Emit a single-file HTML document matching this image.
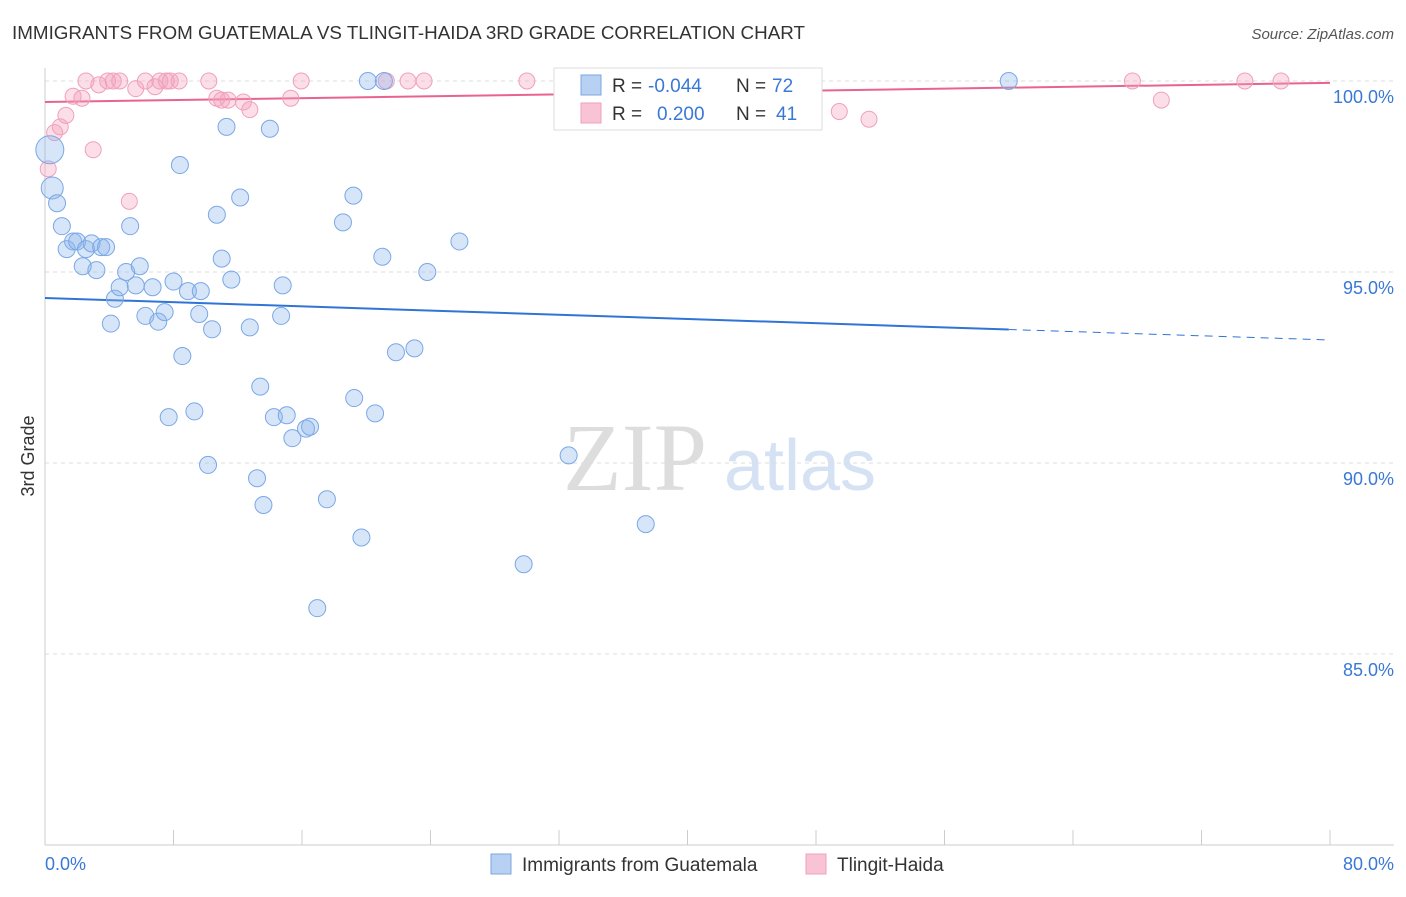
<!DOCTYPE html>
<html><head><meta charset="utf-8"><style>
body{margin:0;background:#fff;font-family:"Liberation Sans",sans-serif}
#c{position:relative;width:1406px;height:892px}
</style></head><body>
<div id="c">
<svg id="s" width="1406" height="892" xmlns="http://www.w3.org/2000/svg">
<text x="12" y="39" font-size="18" fill="#333" textLength="793" lengthAdjust="spacingAndGlyphs">IMMIGRANTS FROM GUATEMALA VS TLINGIT-HAIDA 3RD GRADE CORRELATION CHART</text>
<text x="1394" y="39" font-size="15" fill="#555" font-style="italic" text-anchor="end">Source: ZipAtlas.com</text>
<text x="34" y="456" font-size="18" fill="#333" text-anchor="middle" transform="rotate(-90 34 456)">3rd Grade</text>
<g><text x="635" y="490" font-size="96" fill="#ddd" font-family="Liberation Serif" text-anchor="middle">ZIP</text><text x="800" y="490" font-size="72" fill="#d4e2f4" text-anchor="middle">atlas</text></g>
<g id="grid"></g><g id="axes"></g><g id="trend"></g><g id="pts"></g>
<g>
<rect x="554" y="68" width="268" height="62" fill="#fff" stroke="#ddd"/>
<rect x="581" y="75" width="20" height="20" fill="#b8d1f3" stroke="#7aa8e6"/>
<text x="612" y="92" font-size="19" fill="#333">R = </text><text x="648" y="92" font-size="19" fill="#3a78d6">-0.044</text>
<text x="736" y="92" font-size="19" fill="#333">N = </text><text x="772" y="92" font-size="19" fill="#3a78d6">72</text>
<rect x="581" y="103" width="20" height="20" fill="#f8c3d4" stroke="#f0a0bb"/>
<text x="612" y="120" font-size="19" fill="#333">R = </text><text x="657" y="120" font-size="19" fill="#3a78d6">0.200</text>
<text x="736" y="120" font-size="19" fill="#333">N = </text><text x="776" y="120" font-size="19" fill="#3a78d6">41</text>
</g>
<g>
<rect x="491" y="854" width="20" height="20" fill="#b8d1f3" stroke="#7aa8e6"/>
<text x="522" y="871" font-size="19" fill="#333">Immigrants from Guatemala</text>
<rect x="806" y="854" width="20" height="20" fill="#f8c3d4" stroke="#f0a0bb"/>
<text x="837" y="871" font-size="19" fill="#333">Tlingit-Haida</text>
</g>
<text x="45" y="870" font-size="18" fill="#3a78d6">0.0%</text>
<text x="1394" y="870" font-size="18" fill="#3a78d6" text-anchor="end">80.0%</text>
</svg></div>
<script>
const yTicks=[100,95,90,85];
const blueX=[0.3,0.45,0.75,1.05,1.35,1.75,2.0,2.35,2.55,2.9,3.2,3.5,3.8,4.1,4.35,4.65,5.05,5.3,5.65,5.9,6.25,6.7,7.05,7.45,7.7,8.0,8.4,8.55,8.9,9.3,9.6,9.7,10.15,10.4,10.7,11.0,11.3,11.6,12.15,12.75,13.2,13.4,13.6,14.0,14.25,14.8,14.7,15.05,15.4,16.25,16.5,16.95,17.55,18.55,19.2,19.25,19.7,20.1,20.55,21.0,21.1,21.85,23.0,23.8,25.8,29.8,32.6,37.4,60.0];
const blueY=[98.2,97.2,96.8,96.2,95.6,95.8,95.8,95.15,95.6,95.75,95.05,95.65,95.65,93.65,94.3,94.6,95.0,96.2,94.65,95.15,93.85,94.6,93.7,93.95,91.2,94.75,97.8,92.8,94.5,91.35,93.9,94.5,89.95,93.5,96.5,95.35,98.8,94.8,96.95,93.55,89.6,92.0,88.9,98.75,91.2,94.65,93.85,91.25,90.65,90.9,90.95,86.2,89.05,96.3,97.0,91.7,88.05,100,91.3,95.4,100,92.9,93.0,95.0,95.8,87.35,90.2,88.4,100];
const pinkX=[0.2,0.6,0.95,1.3,1.75,2.3,2.55,3.0,3.35,3.9,4.25,4.65,5.25,5.65,6.25,6.85,7.15,7.55,7.8,8.35,10.2,10.7,11.0,11.4,12.35,12.75,15.3,15.95,21.25,22.6,23.6,30.0,36.7,44.85,49.45,51.3,67.7,69.5,74.7,76.95];
const pinkY=[97.7,98.65,98.8,99.1,99.6,99.55,100,98.2,99.9,100,100,100,96.85,99.8,100,99.85,100,100,100,100,100,99.55,99.5,99.5,99.45,99.25,99.55,100,100,100,100,100,100,99.3,99.2,99.0,100,99.5,100,100];
const blueTrend=[94.32,93.22], pinkTrend=[99.45,99.95];
const X=v=>45+v*1285/80, Y=v=>81+(100-v)*38.2;
const NS='http://www.w3.org/2000/svg';
function mk(t,a,p){const e=document.createElementNS(NS,t);for(const k in a)e.setAttribute(k,a[k]);p.appendChild(e);return e;}
const grid=document.getElementById('grid'),axes=document.getElementById('axes'),tr=document.getElementById('trend'),pts=document.getElementById('pts');
yTicks.forEach(v=>{
 const l=mk('line',{x1:45,x2:1394,y1:Y(v),y2:Y(v),stroke:'#ddd','stroke-dasharray':'4,4'},grid);
 
 
 const t=mk('text',{x:1394,y:Y(v)+22,'font-size':18,fill:'#3a78d6','text-anchor':'end'},grid);
 t.textContent=v.toFixed(1)+'%';
 
 
});
mk('line',{x1:45,x2:45,y1:68,y2:845,stroke:'#ccc'},axes);
mk('line',{x1:45,x2:1394,y1:845,y2:845,stroke:'#ccc'},axes);
for(let i=1;i<=10;i++){const xx=X(i*8);mk('line',{x1:xx,x2:xx,y1:830,y2:845,stroke:'#ccc'},axes);}
const bl=mk('line',{x1:X(0),y1:Y(blueTrend[0]),x2:X(60),y2:Y(blueTrend[0]+(blueTrend[1]-blueTrend[0])*60/80),stroke:'#2f74d6','stroke-width':2},tr);


mk('line',{x1:X(60),y1:Y(blueTrend[0]+(blueTrend[1]-blueTrend[0])*60/80),x2:X(80),y2:Y(blueTrend[1]),stroke:'#2f74d6','stroke-width':1,'stroke-dasharray':'8,6'},tr);
const pl=mk('line',{x1:X(0),y1:Y(pinkTrend[0]),x2:X(80),y2:Y(pinkTrend[1]),stroke:'#e8648f','stroke-width':2},tr);


pinkX.forEach((x,i)=>{
 const c=mk('circle',{cx:X(x),cy:Y(pinkY[i]),r:8,fill:'rgba(244,160,190,0.35)',stroke:'#f0a0bb','stroke-width':1},pts);
 
 
});
blueX.forEach((x,i)=>{
 const r=i==0?14:(i==1?11:8.5);
 const c=mk('circle',{cx:X(x),cy:Y(blueY[i]),r:r,fill:'rgba(140,180,235,0.35)',stroke:'#7aa8e6','stroke-width':1},pts);
 
 
});
</script>
</body></html>
